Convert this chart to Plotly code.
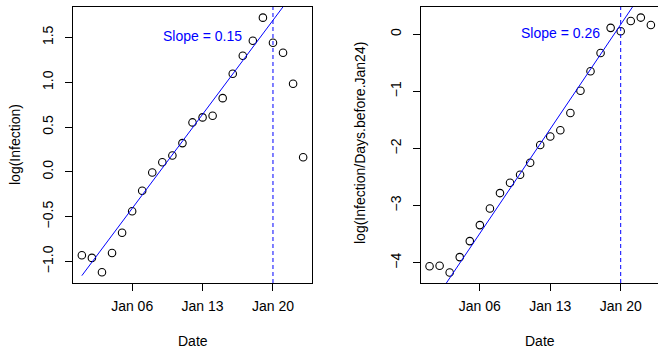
import plotly.graph_objects as go

dates = ["2020-01-%02d" % d for d in range(1, 24)]

log_infection = [-0.93, -0.96, -1.12, -0.905, -0.68, -0.44, -0.21, -0.007, 0.108, 0.183,
                 0.321, 0.552, 0.608, 0.626, 0.823, 1.095, 1.296, 1.464, 1.721, 1.441,
                 1.330, 0.983, 0.164]
log_ratio = [-4.06, -4.05, -4.17, -3.90, -3.62, -3.34, -3.05, -2.78, -2.60, -2.46,
             -2.25, -1.94, -1.79, -1.68, -1.38, -0.99, -0.65, -0.33, 0.11, 0.05,
             0.23, 0.29, 0.16]

# fitted lines (intercept at Jan 01, slope per day)
fit1_intercept, fit1_slope = -1.158, 0.150
fit2_intercept, fit2_slope = -4.79, 0.261
fit1_dates = ["2020-01-01", "2020-01-24"]
fit2_dates = ["2019-12-31", "2020-01-24"]
fit1_y = [fit1_intercept, fit1_intercept + fit1_slope * 23]
fit2_y = [fit2_intercept - fit2_slope, fit2_intercept + fit2_slope * 23]

tick_vals = ["2020-01-06", "2020-01-13", "2020-01-20"]
tick_text = ["Jan 06", "Jan 13", "Jan 20"]
cutoff_date = "2020-01-20"
slope_labels = ["Slope = 0.15", "Slope = 0.26"]

FONT = "Liberation Sans, Arial, Helvetica, sans-serif"
W, H = 658, 349

fig = go.Figure()

fig.add_trace(go.Scatter(x=dates, y=log_infection, mode="markers", xaxis="x", yaxis="y",
                         marker=dict(symbol="circle-open", size=7.5, color="black",
                                     line=dict(width=1.1, color="black")),
                         showlegend=False, hoverinfo="skip"))
fig.add_trace(go.Scatter(x=fit1_dates, y=fit1_y, mode="lines", xaxis="x", yaxis="y",
                         line=dict(color="#0000ff", width=1), showlegend=False, hoverinfo="skip"))
fig.add_trace(go.Scatter(x=dates, y=log_ratio, mode="markers", xaxis="x2", yaxis="y2",
                         marker=dict(symbol="circle-open", size=7.5, color="black",
                                     line=dict(width=1.1, color="black")),
                         showlegend=False, hoverinfo="skip"))
fig.add_trace(go.Scatter(x=fit2_dates, y=fit2_y, mode="lines", xaxis="x2", yaxis="y2",
                         line=dict(color="#0000ff", width=1), showlegend=False, hoverinfo="skip"))

ydom = [1 - 283 / H, 1 - 7 / H]
axis_common = dict(showgrid=False, zeroline=False, showline=True, linecolor="black",
                   linewidth=1, ticks="outside", ticklen=7, tickcolor="black",
                   tickwidth=1, tickfont=dict(family=FONT, size=14, color="black"))

fig.update_layout(
    width=W, height=H,
    margin=dict(l=0, r=0, t=0, b=0),
    paper_bgcolor="white", plot_bgcolor="white",
    font=dict(family=FONT, size=14, color="black"),
    xaxis=dict(domain=[73 / W, 312 / W], anchor="y", type="date",
               range=["2019-12-31 02:53", "2020-01-23 21:07"],
               tickvals=tick_vals, ticktext=tick_text, mirror=True,
               ticklabelstandoff=3, **axis_common),
    yaxis=dict(domain=ydom, anchor="x", range=[-1.24, 1.84],
               tickvals=[-1.0, -0.5, 0.0, 0.5, 1.0, 1.5], ticktext=["\u22121.0", "\u22120.5", "0.0", "0.5", "1.0", "1.5"],
               tickangle=-90, mirror=True, ticklabelstandoff=6, **axis_common),
    xaxis2=dict(domain=[420.7 / W, 1.0], anchor="y2", type="date",
                range=["2019-12-31 02:53", "2020-01-23 17:00"],
                tickvals=tick_vals, ticktext=tick_text, mirror=True,
                ticklabelstandoff=3, **axis_common),
    yaxis2=dict(domain=ydom, anchor="x2", range=[-4.353, 0.475],
                tickvals=[-4, -3, -2, -1, 0], ticktext=["\u22124", "\u22123", "\u22122", "\u22121", "0"],
                tickangle=-90, mirror=False, ticklabelstandoff=6, **axis_common),
)

# dashed vertical lines at the cutoff date
for xr, yr in (("x", "y domain"), ("x2", "y2 domain")):
    fig.add_shape(type="line", xref=xr, yref=yr, x0=cutoff_date, x1=cutoff_date, y0=0, y1=1,
                  line=dict(color="#0000ff", width=1, dash="4px,3px"))

# slope labels
fig.add_annotation(x="2020-01-13", y=1.516, xref="x", yref="y", text=slope_labels[0],
                   showarrow=False, font=dict(family=FONT, size=14, color="#0000ff"))
fig.add_annotation(x="2020-01-14 01:00", y=0.02, xref="x2", yref="y2", text=slope_labels[1],
                   showarrow=False, font=dict(family=FONT, size=14, color="#0000ff"))

# axis titles
title_font = dict(family=FONT, size=14, color="black")
fig.add_annotation(x=(73 + 312) / 2 / W, y=1 - 341 / H, xref="paper", yref="paper", text="Date",
                   xanchor="center", yanchor="middle", showarrow=False, font=title_font)
fig.add_annotation(x=(420.7 + 660) / 2 / W, y=1 - 341 / H, xref="paper", yref="paper", text="Date",
                   xanchor="center", yanchor="middle", showarrow=False, font=title_font)
fig.add_annotation(x=15 / W, y=1 - 145 / H, xref="paper", yref="paper", text="log(Infection)",
                   xanchor="center", yanchor="middle", textangle=-90, showarrow=False, font=title_font)
fig.add_annotation(x=360 / W, y=1 - 143 / H, xref="paper", yref="paper",
                   text="log(Infection/Days.before.Jan24)",
                   xanchor="center", yanchor="middle", textangle=-90, showarrow=False, font=title_font)

fig.write_html("out.html", config={"displayModeBar": False},
               post_script="document.body.style.margin='0';document.body.style.overflow='hidden';")
